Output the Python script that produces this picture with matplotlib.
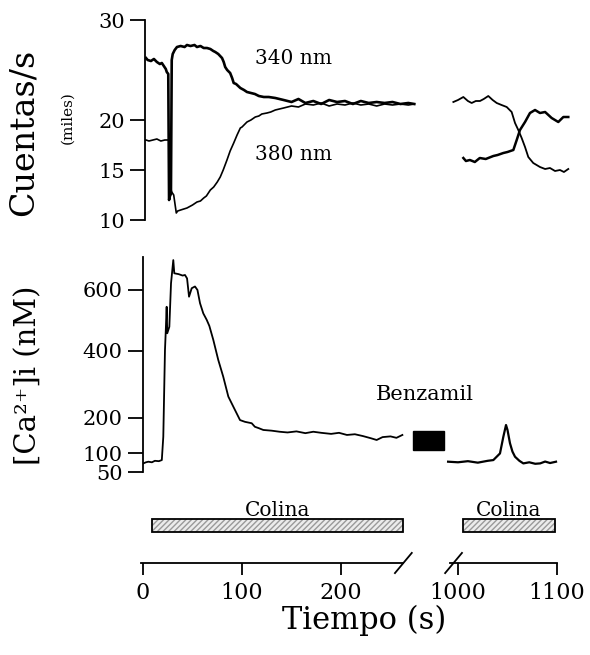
import matplotlib
matplotlib.use("Agg")
import matplotlib.pyplot as plt
import numpy as np
from matplotlib.patches import Rectangle

plt.rcParams['font.family'] = ['DejaVu Serif']
plt.rcParams['mathtext.fontset'] = 'dejavuserif'

# ---------------- data ----------------
# Top panel, left segment (time s, counts/s in thousands)
t340_a = [1, 2.7, 6, 9, 12, 15, 17, 19, 21, 22, 23.5, 24.3, 25.2, 26.2, 27, 28, 30, 32.3, 36, 40, 42.4, 46,
          50, 52.5, 56, 59.3, 62.6, 66, 69, 71, 74, 77.8, 79.5, 81, 83, 86, 88, 89.6, 92, 96.3, 100, 103,
          107, 111, 115, 120, 125, 131.6, 140, 148, 155, 162, 170, 178, 186, 194, 202, 210, 218, 226,
          234, 242, 250, 258, 266, 272]
v340_a = [26.2, 26.0, 25.9, 26.1, 25.8, 25.6, 25.7, 25.4, 25.1, 24.8, 24.6, 12.0, 12.4, 12.6, 26.0, 26.6, 27.0,
          27.3, 27.4, 27.3, 27.5, 27.4, 27.5, 27.3, 27.4, 27.2, 27.2, 27.1, 26.9, 26.8, 26.6, 26.2, 25.8,
          25.3, 25.0, 24.7, 24.2, 23.7, 23.6, 23.2, 23.0, 22.8, 22.7, 22.6, 22.4, 22.3, 22.3, 22.2, 22.0,
          21.8, 22.1, 21.7, 21.9, 21.6, 22.0, 21.8, 21.9, 21.6, 21.9, 21.7, 21.8, 21.7, 21.8, 21.6, 21.7,
          21.6]
t380_a = [1, 4, 8, 12, 16, 20, 23.8, 24.6, 25.6, 27, 29, 31.6, 33, 36, 42.4, 48, 52.5, 56, 59.3, 62, 66,
          69.4, 73, 76, 79, 82.8, 86, 89.6, 93, 96.3, 98, 103, 107, 111.4, 115, 118, 123.2, 127, 131.6,
          140, 148, 155, 162, 170, 178, 186, 194, 202, 210, 218, 226, 234, 242, 250, 258, 266, 272]
v380_a = [18.0, 17.9, 18.0, 18.1, 17.9, 18.0, 18.0, 17.8, 13.2, 12.8, 12.5, 10.7, 10.9, 11.0, 11.2, 11.5,
          11.8, 11.9, 12.2, 12.4, 13.0, 13.3, 13.8, 14.3, 15.0, 16.0, 16.9, 17.7, 18.5, 19.2, 19.3, 19.8,
          20.0, 20.3, 20.4, 20.6, 20.7, 20.8, 21.0, 21.2, 21.4, 21.3, 21.6, 21.5, 21.7, 21.4, 21.6, 21.5,
          21.7, 21.5, 21.6, 21.4, 21.6, 21.5, 21.6, 21.5, 21.6]

# Top panel, right segment
t340_b = [995.3, 1000, 1005.4, 1010, 1013.8, 1018, 1022.2, 1026, 1030.6, 1035, 1039.1, 1044, 1049.2,
          1054.2, 1057.6, 1060.9, 1064.3, 1067.7, 1071, 1076, 1082.8, 1088, 1092.9, 1098, 1103, 1107, 1111.4]
v340_b = [21.8, 22.0, 22.3, 21.9, 21.7, 21.9, 21.9, 22.1, 22.4, 22.0, 21.7, 21.5, 21.3, 20.8, 19.7, 19.0,
          18.2, 17.3, 16.3, 15.7, 15.3, 15.1, 15.2, 14.9, 15.0, 14.8, 15.1]
t380_b = [1005.4, 1008, 1012, 1017, 1022, 1028, 1035.7, 1040, 1045.8, 1050, 1055.9, 1059.3, 1062.6,
          1067.7, 1072.7, 1077.8, 1082.8, 1088, 1094.6, 1101.3, 1106.4, 1111.4]
v380_b = [16.2, 15.9, 16.0, 15.8, 16.2, 16.1, 16.4, 16.5, 16.7, 16.8, 17.0, 18.0, 19.0, 19.8, 20.7, 21.0,
          20.7, 20.8, 20.2, 19.8, 20.3, 20.3]

# Bottom panel, [Ca2+]i in nM
tca_a = [0.3, 3, 5.4, 9, 12, 16, 19, 20.5, 22.2, 22.9, 23.9, 24.5, 26.6, 28.3, 30.6, 31.6, 36, 40, 42.4,
         44.5, 46.5, 49.2, 52.5, 55, 57.6, 60.9, 64.3, 67, 71, 76, 81, 86.2, 92.9, 98, 103, 109.8, 113,
         117, 121.5, 130, 138, 146, 155, 164, 172, 180, 190, 198, 206, 214, 222, 230, 236, 242, 250, 256, 262]
ca_a = [73, 76, 77.6, 76, 80, 79, 82, 146, 403, 456, 543, 456, 477, 623, 705, 658, 655, 650, 652, 640, 577,
        606, 612, 600, 555, 521, 500, 480, 435, 372, 321, 261, 222, 193, 188, 184, 174, 170, 165, 163, 160,
        158, 161, 156, 160, 157, 154, 157, 151, 153, 148, 142, 137, 145, 147, 143, 151]
tca_b = [990, 1000, 1010, 1020, 1030, 1035.7, 1042.4, 1045.8, 1048.5, 1050, 1052.5, 1055, 1057.6, 1062,
         1066, 1072, 1078, 1083, 1088, 1093, 1099]
ca_b = [77.6, 76, 79, 75, 80, 82, 100, 146, 179, 165, 128, 105, 91, 80, 73, 76, 72, 73, 78, 74, 77.6]

# Annotations
colina_1 = (9, 262.6)
colina_2 = (1005, 1098)
benzamil = (272.7, 304.0, 109, 162)   # t0, t1, Ca low, Ca high
break_a = 263
break_b = 995.5
ticks_top = [10, 15, 20, 30]
ticks_ca = [50, 100, 200, 400, 600]
ticks_time_a = [0, 100, 200]
ticks_time_b = [1000, 1100]

# ---------------- layout ----------------
W, H = 590, 655
fig = plt.figure(figsize=(W / 100, H / 100), dpi=100)

def rect(x0, x1, ytop, ybot):
    return [x0 / W, 1 - ybot / H, (x1 - x0) / W, (ybot - ytop) / H]

PX_PER_S = 0.99
def xl_a(p0, p1, org=143):
    return ((p0 - org) / PX_PER_S, (p1 - org) / PX_PER_S)
def xl_b(p0, p1):
    return (1000 + (p0 - 458) / PX_PER_S, 1000 + (p1 - 458) / PX_PER_S)

K = 4000.0
def fwd(c):
    c = np.asarray(c, dtype=float)
    return c / (c + K)
def inv(f):
    f = np.asarray(f, dtype=float)
    return K * f / (1 - f)

LW_AX = 1.3
TICKLEN = 10.5
FS_TICK = 15

def strip(ax):
    for s in ax.spines.values():
        s.set_visible(False)
    ax.set_xticks([])
    ax.set_yticks([])
    ax.patch.set_alpha(0)

# top left
ax1 = fig.add_axes(rect(145, 416, 20, 220))
ax1.plot(t340_a, v340_a, color='black', lw=1.9)
ax1.plot(t380_a, v380_a, color='black', lw=1.2)
ax1.set_xlim(xl_a(145, 416, org=145))
ax1.set_ylim(10, 30)
for s in ['top', 'right', 'bottom']:
    ax1.spines[s].set_visible(False)
ax1.spines['left'].set_linewidth(LW_AX)
ax1.set_xticks([])
ax1.set_yticks(ticks_top)
ax1.set_yticklabels([str(v) for v in ticks_top])
ax1.tick_params(axis='y', direction='out', length=TICKLEN, width=LW_AX, labelsize=FS_TICK, pad=4)
ax1.patch.set_alpha(0)
lab_t = (255 - 145) / PX_PER_S
ax1.text(lab_t, 26.2, '340 nm', fontsize=14.5, va='center', ha='left')
ax1.text(lab_t, 16.5, '380 nm', fontsize=14.5, va='center', ha='left')

# top right
ax2 = fig.add_axes(rect(443, 575, 20, 220))
ax2.plot(t340_b, v340_b, color='black', lw=1.3)
ax2.plot(t380_b, v380_b, color='black', lw=1.8)
ax2.set_xlim(xl_b(443, 575))
ax2.set_ylim(10, 30)
strip(ax2)

# bottom left
ax3 = fig.add_axes(rect(143, 416, 257, 472))
ax3.set_yscale('function', functions=(fwd, inv))
ax3.plot(tca_a, ca_a, color='black', lw=1.3)
ax3.set_xlim(xl_a(143, 416))
ax3.set_ylim(50, 716)
for s in ['top', 'right', 'bottom']:
    ax3.spines[s].set_visible(False)
ax3.spines['left'].set_linewidth(LW_AX)
ax3.set_xticks([])
ax3.set_yticks(ticks_ca)
ax3.set_yticklabels([str(v) for v in ticks_ca])
ax3.yaxis.set_minor_locator(matplotlib.ticker.NullLocator())
ax3.tick_params(axis='y', direction='out', length=TICKLEN, width=LW_AX, labelsize=FS_TICK, pad=4)
ax3.patch.set_alpha(0)
ax3.add_patch(Rectangle((benzamil[0], benzamil[2]), benzamil[1] - benzamil[0], benzamil[3] - benzamil[2],
                        facecolor='black', edgecolor='black', clip_on=False))
ax3.text((425 - 143) / PX_PER_S, 266, 'Benzamil', fontsize=15, ha='center', va='center')

# bottom right
ax4 = fig.add_axes(rect(443, 575, 257, 472))
ax4.set_yscale('function', functions=(fwd, inv))
ax4.plot(tca_b, ca_b, color='black', lw=1.6)
ax4.set_xlim(xl_b(443, 575))
ax4.set_ylim(50, 716)
strip(ax4)

# time axes
def time_axis(ax, ticks, bounds, colina, brk):
    for s in ['top', 'right', 'left']:
        ax.spines[s].set_visible(False)
    ax.spines['bottom'].set_linewidth(LW_AX)
    ax.spines['bottom'].set_bounds(*bounds)
    ax.set_yticks([])
    ax.set_ylim(0, 1)
    ax.set_xticks(ticks)
    ax.set_xticklabels([str(v) for v in ticks])
    ax.tick_params(axis='x', direction='out', length=TICKLEN * 0.8, width=LW_AX, labelsize=16, pad=5)
    ax.patch.set_alpha(0)
    y0, y1 = 0.49, 0.70
    ax.barh((y0 + y1) / 2, colina[1] - colina[0], left=colina[0], height=y1 - y0,
            facecolor='#ececec', edgecolor='#9a9a9a', hatch='//////', linewidth=0)
    ax.barh((y0 + y1) / 2, colina[1] - colina[0], left=colina[0], height=y1 - y0,
            fill=False, edgecolor='black', linewidth=1.3)
    ax.text((colina[0] + colina[1]) / 2, 0.83, 'Colina', fontsize=14.5, ha='center', va='center')
    ax.plot([brk - 8.5, brk + 8.5], [-0.16, 0.16], color='black', lw=1.3, clip_on=False)

ax5 = fig.add_axes(rect(138, 416, 500, 563))
ax5.set_xlim(xl_a(138, 416))
time_axis(ax5, ticks_time_a, (-2, break_a), colina_1, break_a)

ax6 = fig.add_axes(rect(443, 575, 500, 563))
ax6.set_xlim(xl_b(443, 575))
time_axis(ax6, ticks_time_b, (992, 1100), colina_2, break_b)

# axis labels
fig.text(24 / W, 1 - 132 / H, 'Cuentas/s', rotation=90, fontsize=24, ha='center', va='center')
fig.text(67 / W, 1 - 118 / H, '(miles)', rotation=90, fontsize=11, ha='center', va='center')
fig.text(28 / W, 1 - 375 / H, '[Ca\u00b2\u207a]i (nM)', rotation=90, fontsize=21, ha='center', va='center')
fig.text(364 / W, 1 - 620 / H, 'Tiempo (s)', fontsize=22, ha='center', va='center')

fig.savefig('out.png', dpi=100, facecolor='white')
